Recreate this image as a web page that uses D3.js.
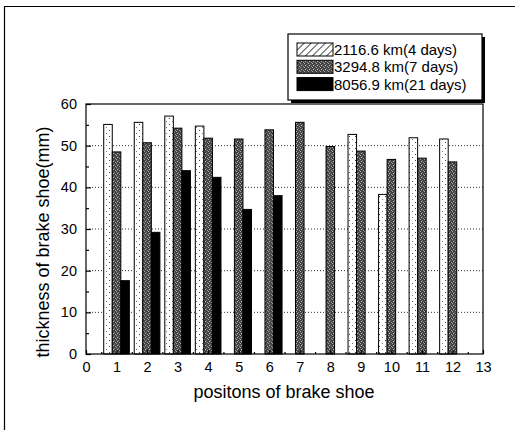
<!DOCTYPE html>
<html>
<head>
<meta charset="utf-8">
<script src="https://cdn.jsdelivr.net/npm/d3@7"></script>
<style>
  body { margin: 0; background: #fff; }
  svg { display: block; }
  text { font-family: "Liberation Sans", Arial, Helvetica, sans-serif; fill: #000; }
</style>
</head>
<body>
<svg width="515" height="433"></svg>
<script>
// positions 1..12 of the brake shoes
const positions = [1, 2, 3, 4, 5, 6, 7, 8, 9, 10, 11, 12];
// thickness (mm) for each run, null = not measured
const run4days  = [55.1, 55.6, 57.1, 54.7, null, null, null, null, 52.7, 38.3, 51.9, 51.6];
const run7days  = [48.5, 50.7, 54.2, 51.8, 51.6, 53.8, 55.6, 49.8, 48.7, 46.7, 47.0, 46.1];
const run21days = [17.6, 29.2, 44.0, 42.4, 34.7, 38.0, null, null, null, null, null, null];
const seriesNames = ["2116.6 km(4 days)", "3294.8 km(7 days)", "8056.9 km(21 days)"];
const xTicks = d3.range(0, 14);
const yTicks = [0, 10, 20, 30, 40, 50, 60];

const svg = d3.select("svg");
const plotL = 86, plotR = 483, plotT = 104, plotB = 354;

const x = d3.scaleLinear().domain([0, 13]).range([plotL, plotR]);
const y = d3.scaleLinear().domain([0, 60]).range([plotB, plotT]);

/* ----------- patterns ----------- */
const defs = svg.append("defs");

let dots = defs.append("pattern").attr("id", "dots")
    .attr("patternUnits", "userSpaceOnUse").attr("width", 6).attr("height", 6);
dots.append("rect").attr("width", 6).attr("height", 6).attr("fill", "#fff");
dots.append("rect").attr("x", 1).attr("y", 4).attr("width", 1).attr("height", 1).attr("fill", "#444");
dots.append("rect").attr("x", 4).attr("y", 1).attr("width", 1).attr("height", 1).attr("fill", "#777");

let speckle = defs.append("pattern").attr("id", "speckle")
    .attr("patternUnits", "userSpaceOnUse").attr("width", 4).attr("height", 4);
speckle.append("rect").attr("width", 4).attr("height", 4).attr("fill", "#444");
speckle.append("rect").attr("x", 1).attr("y", 1).attr("width", 1).attr("height", 1).attr("fill", "#c0c0c0");
speckle.append("rect").attr("x", 3).attr("y", 2).attr("width", 1).attr("height", 1).attr("fill", "#999");
speckle.append("rect").attr("x", 0).attr("y", 3).attr("width", 1).attr("height", 1).attr("fill", "#a8a8a8");
speckle.append("rect").attr("x", 2).attr("y", 0).attr("width", 1).attr("height", 1).attr("fill", "#777");

let hatch = defs.append("pattern").attr("id", "hatch")
    .attr("patternUnits", "userSpaceOnUse").attr("width", 5).attr("height", 5)
    .attr("patternTransform", "rotate(45)");
hatch.append("rect").attr("width", 5).attr("height", 5).attr("fill", "#fff");
hatch.append("line").attr("x1", 0).attr("y1", 0).attr("x2", 0).attr("y2", 5)
    .attr("stroke", "#000").attr("stroke-width", 1.4);

const barFills = ["url(#dots)", "url(#speckle)", "#000"];
const legendFills = ["url(#hatch)", "url(#speckle)", "#000"];

/* ----------- outer frame ----------- */
svg.append("line").attr("x1", 4).attr("x2", 515).attr("y1", 6.5).attr("y2", 6.5)
    .attr("stroke", "#000").attr("stroke-width", 1.2);
svg.append("line").attr("x1", 4.5).attr("x2", 4.5).attr("y1", 6).attr("y2", 430)
    .attr("stroke", "#000").attr("stroke-width", 1.2);

/* ----------- grid ----------- */
svg.append("g").selectAll("line").data([10, 20, 30, 40, 50]).enter()
    .append("line")
    .attr("x1", plotL).attr("x2", plotR)
    .attr("y1", d => y(d)).attr("y2", d => y(d))
    .attr("stroke", "#333").attr("stroke-width", 1)
    .attr("stroke-dasharray", "1,2");

/* ----------- bars ----------- */
const barW = 0.28;
const series = [run4days, run7days, run21days];
series.forEach((vals, s) => {
    const data = positions.map((p, i) => ({ p: p, v: vals[i] })).filter(d => d.v != null);
    svg.append("g").selectAll("rect").data(data).enter()
        .append("rect")
        .attr("x", d => x(d.p + (s - 1) * barW - barW / 2))
        .attr("width", x(barW) - x(0))
        .attr("y", d => y(d.v))
        .attr("height", d => y(0) - y(d.v))
        .attr("fill", barFills[s])
        .attr("stroke", "#000")
        .attr("stroke-width", 1);
});

/* ----------- axes ----------- */
svg.append("rect").attr("x", plotL).attr("y", plotT)
    .attr("width", plotR - plotL).attr("height", plotB - plotT)
    .attr("fill", "none").attr("stroke", "#000").attr("stroke-width", 1.2);

let xAxis = svg.append("g").attr("transform", `translate(0,${plotB})`)
    .call(d3.axisBottom(x).tickValues(xTicks).tickFormat(d3.format("d"))
        .tickSizeInner(-4).tickSizeOuter(0).tickPadding(8));
let xMinor = svg.append("g").attr("transform", `translate(0,${plotB})`)
    .call(d3.axisBottom(x).tickValues(d3.range(0.5, 13, 1)).tickFormat("")
        .tickSizeInner(-2).tickSizeOuter(0));

let yAxis = svg.append("g").attr("transform", `translate(${plotL},0)`)
    .call(d3.axisLeft(y).tickValues(yTicks).tickFormat(d3.format("d"))
        .tickSizeInner(-5).tickSizeOuter(0).tickPadding(9));
let yMinor = svg.append("g").attr("transform", `translate(${plotL},0)`)
    .call(d3.axisLeft(y).tickValues([5, 15, 25, 35, 45, 55]).tickFormat("")
        .tickSizeInner(-3).tickSizeOuter(0));

[xAxis, xMinor, yAxis, yMinor].forEach(g => {
    g.select(".domain").remove();
    g.selectAll("line").attr("stroke", "#000").attr("stroke-width", 1.2);
    g.selectAll("text").style("font-size", "14.5px")
        .style("font-family", "'Liberation Sans', Arial, sans-serif").attr("fill", "#000");
});

/* ----------- titles ----------- */
svg.append("text")
    .attr("x", 284).attr("y", 398)
    .attr("text-anchor", "middle")
    .style("font-size", "18px")
    .text("positons of brake shoe");

svg.append("text")
    .attr("transform", "translate(49,242) rotate(-90)")
    .attr("text-anchor", "middle")
    .style("font-size", "18px")
    .text("thickness of brake shoe(mm)");

/* ----------- legend ----------- */
const lg = svg.append("g");
lg.append("rect").attr("x", 291).attr("y", 37).attr("width", 194).attr("height", 66).attr("fill", "#000");
lg.append("rect").attr("x", 288).attr("y", 34).attr("width", 194).attr("height", 66)
    .attr("fill", "#fff").attr("stroke", "#000").attr("stroke-width", 1.2);

seriesNames.forEach((name, i) => {
    const ry = 43 + i * 17.3;
    lg.append("rect").attr("x", 297).attr("y", ry).attr("width", 36).attr("height", 13)
        .attr("fill", legendFills[i]).attr("stroke", "#000").attr("stroke-width", 1);
    lg.append("text").attr("x", 334).attr("y", ry + 12)
        .style("font-size", "15px")
        .text(name);
});
</script>
</body>
</html>
